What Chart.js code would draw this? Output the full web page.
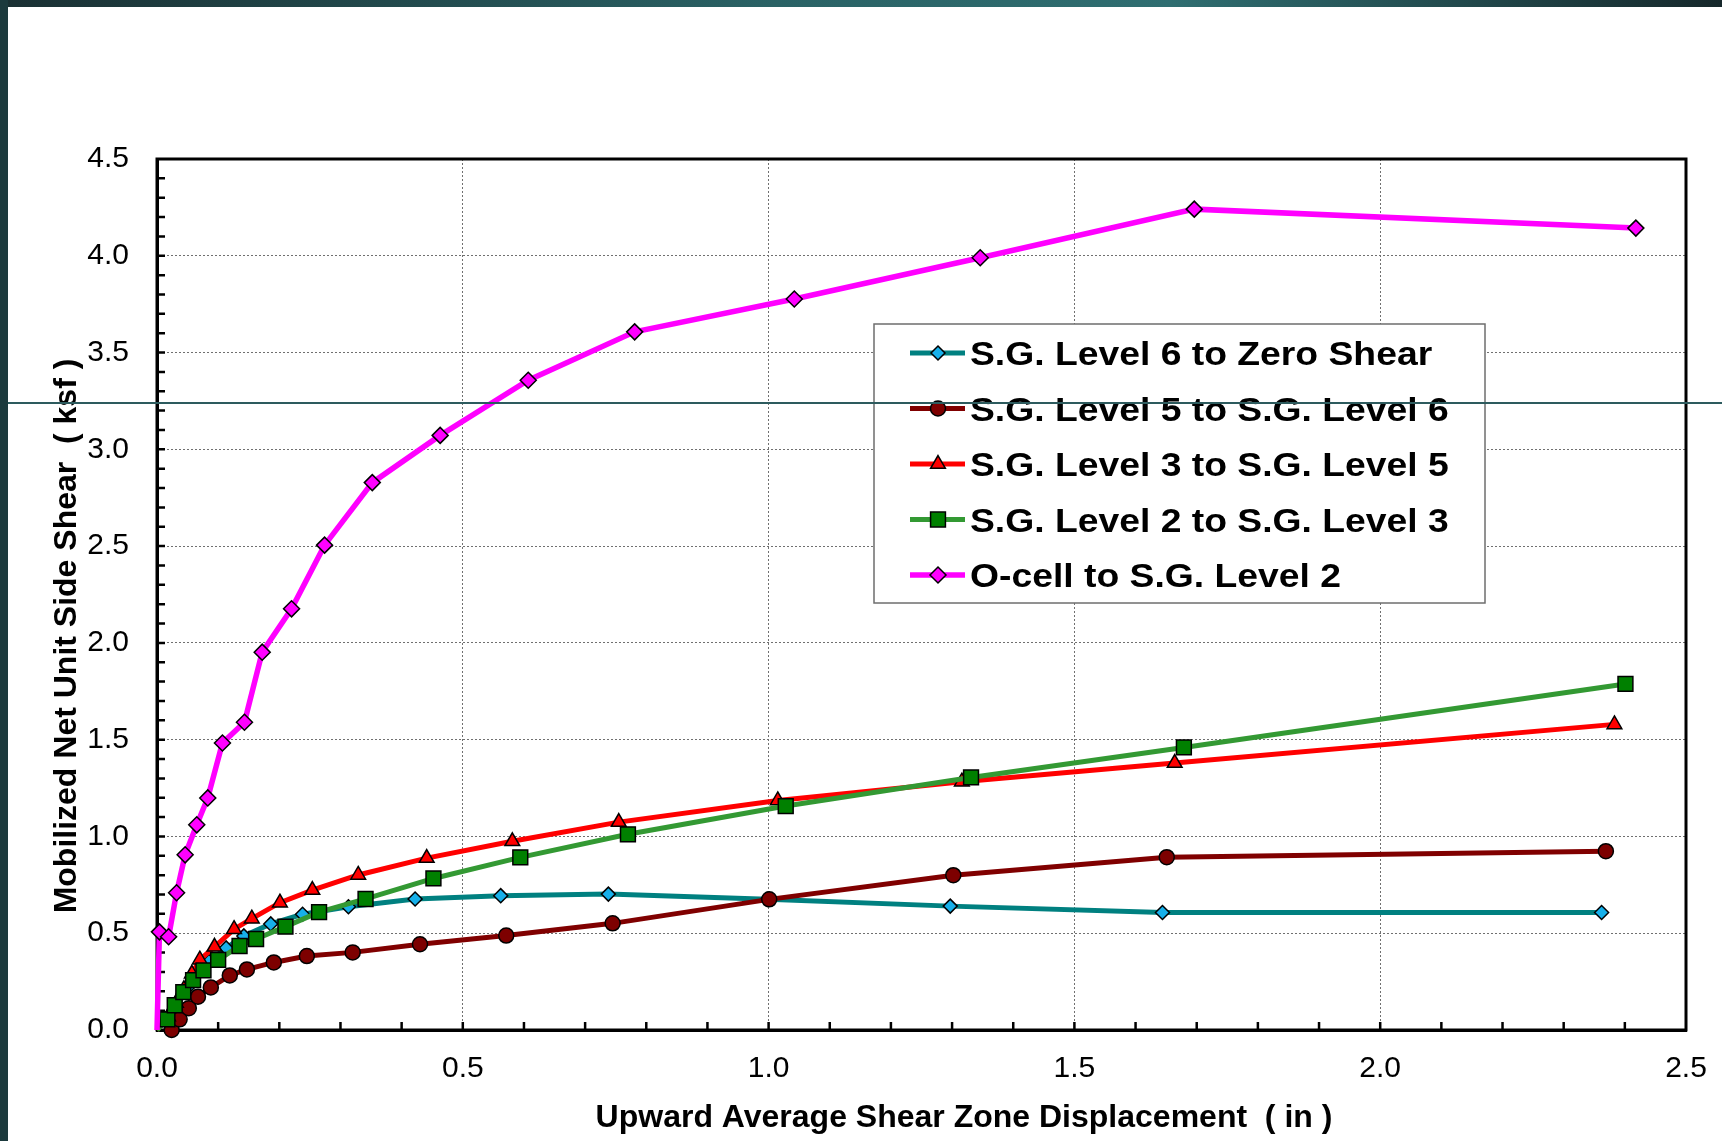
<!DOCTYPE html>
<html>
<head>
<meta charset="utf-8">
<title>Mobilized Net Unit Side Shear</title>
<script src="https://cdn.jsdelivr.net/npm/chart.js@4/dist/chart.umd.min.js"></script>
<style>
  html, body { margin: 0; padding: 0; background: #fff; }
  #wrap { position: relative; width: 1722px; height: 1141px; overflow: hidden; }
  #shear-chart { position: absolute; left: 0; top: 0; }
  .strip-top { position: absolute; left: 0; top: 0; width: 1722px; height: 7px;
    background: linear-gradient(to right, #1a3033 0%, #2a6265 45%, #2f6e71 68%, #16282b 100%); }
  .strip-left { position: absolute; left: 0; top: 0; width: 8px; height: 1141px; background: #1c3a3d; }
  .rule { position: absolute; left: 8px; top: 402px; width: 1714px; height: 1.5px; background: #2d5b5e; }
</style>
</head>
<body>
<div id="wrap">
  <canvas id="shear-chart" width="1722" height="1141"></canvas>
  <div class="strip-top"></div>
  <div class="strip-left"></div>
  <div class="rule"></div>
</div>
<script>
let seriesNames = [
    'S.G. Level 6 to Zero Shear',
    'S.G. Level 5 to S.G. Level 6',
    'S.G. Level 3 to S.G. Level 5',
    'S.G. Level 2 to S.G. Level 3',
    'O-cell to S.G. Level 2'
]

let xTitle = 'Upward Average Shear Zone Displacement  ( in )'
let yTitle = 'Mobilized Net Unit Side Shear  ( ksf )'

let xTicks = [0, 0.5, 1.0, 1.5, 2.0, 2.5]
let yTicks = [0, 0.5, 1.0, 1.5, 2.0, 2.5, 3.0, 3.5, 4.0, 4.5]

// displacement (in) / unit side shear (ksf)
let level6X = [0, 0.030, 0.050, 0.066, 0.085, 0.113, 0.142, 0.186, 0.238, 0.313, 0.422, 0.562, 0.738, 0.998, 1.297, 1.644, 2.362]
let level6Y = [0, 0.13, 0.22, 0.29, 0.354, 0.424, 0.486, 0.548, 0.598, 0.637, 0.677, 0.694, 0.702, 0.675, 0.640, 0.607, 0.607]

let level5X = [0.024, 0.037, 0.052, 0.067, 0.088, 0.119, 0.147, 0.191, 0.245, 0.320, 0.430, 0.571, 0.745, 1.001, 1.302, 1.651, 2.369]
let level5Y = [0.0, 0.055, 0.113, 0.172, 0.220, 0.282, 0.313, 0.349, 0.382, 0.401, 0.443, 0.488, 0.551, 0.675, 0.800, 0.893, 0.924]

let level3X = [0, 0.018, 0.031, 0.044, 0.057, 0.070, 0.094, 0.126, 0.155, 0.201, 0.254, 0.329, 0.441, 0.581, 0.755, 1.015, 1.316, 1.664, 2.383]
let level3Y = [0, 0.07, 0.14, 0.21, 0.29, 0.363, 0.430, 0.521, 0.575, 0.658, 0.723, 0.801, 0.888, 0.975, 1.074, 1.186, 1.283, 1.379, 1.579]

let level2X = [0, 0.017, 0.029, 0.043, 0.059, 0.076, 0.100, 0.135, 0.162, 0.210, 0.265, 0.341, 0.452, 0.594, 0.770, 1.028, 1.331, 1.679, 2.401]
let level2Y = [0, 0.055, 0.128, 0.196, 0.258, 0.308, 0.362, 0.434, 0.470, 0.534, 0.609, 0.677, 0.783, 0.892, 1.011, 1.157, 1.305, 1.460, 1.788]

let ocellX = [0, 0.004, 0.019, 0.032, 0.046, 0.065, 0.083, 0.107, 0.143, 0.172, 0.220, 0.274, 0.352, 0.463, 0.607, 0.781, 1.042, 1.346, 1.696, 2.418]
let ocellY = [0, 0.507, 0.482, 0.709, 0.905, 1.060, 1.199, 1.483, 1.590, 1.952, 2.176, 2.505, 2.828, 3.072, 3.357, 3.607, 3.777, 3.990, 4.241, 4.143]

let seriesX = [level6X, level5X, level3X, level2X, ocellX]
let seriesY = [level6Y, level5Y, level3Y, level2Y, ocellY]

let looks = [
    {line: '#008080', fill: '#17b0ea', shape: 'rectRot', r: 7, width: 5},
    {line: '#800000', fill: '#7d0000', shape: 'circle', r: 7.5, width: 5},
    {line: '#ff0000', fill: '#ff0000', shape: 'triangle', r: 8.5, width: 5},
    {line: '#339933', fill: '#008000', shape: 'rect', r: 10.5, width: 5},
    {line: '#ff00ff', fill: '#ff00ff', shape: 'rectRot', r: 8, width: 5.5}
]

let fontFamily = '"Liberation Sans", Arial, sans-serif'
Chart.defaults.font.family = fontFamily
Chart.defaults.color = '#000'

let datasets = seriesNames.map(function(name, i){
    let look = looks[i]
    return {
        label: name,
        data: seriesX[i].map((x, j) => ({x: x, y: seriesY[i][j]})),
        showLine: true,
        borderColor: look.line,
        borderWidth: look.width,
        pointStyle: look.shape,
        // the origin point has no marker in the original
        pointRadius: ctx => (ctx.raw && ctx.raw.x === 0 && ctx.raw.y === 0) ? 0 : look.r,
        pointBackgroundColor: look.fill,
        pointBorderColor: '#000',
        pointBorderWidth: 1.5,
        order: seriesNames.length - i,   // later series sit on top, like Excel
        clip: false
    }
})

// inward minor ticks every 0.1 and the closed frame
let frameTicks = {
    id: 'frameTicks',
    beforeDatasetsDraw(chart) {
        let {ctx, chartArea: a, scales} = chart
        ctx.save()
        ctx.strokeStyle = '#000'
        ctx.lineWidth = 2.5
        ctx.beginPath()
        for (let i = 1; i < 25; i++) {
            let px = scales.x.getPixelForValue(i / 10)
            ctx.moveTo(px, a.bottom)
            ctx.lineTo(px, a.bottom - 8)
        }
        for (let i = 1; i < 45; i++) {
            let py = scales.y.getPixelForValue(i / 10)
            ctx.moveTo(a.left, py)
            ctx.lineTo(a.left + 8, py)
        }
        ctx.stroke()
        ctx.lineWidth = 3
        ctx.strokeRect(a.left, a.top, a.right - a.left, a.bottom - a.top)
        ctx.restore()
    }
}

let axisTitles = {
    id: 'axisTitles',
    afterDraw(chart) {
        let {ctx, chartArea: a} = chart
        ctx.save()
        ctx.fillStyle = '#000'
        ctx.font = 'bold 32px ' + fontFamily
        ctx.textAlign = 'center'
        ctx.textBaseline = 'alphabetic'
        ctx.fillText(xTitle, a.left + 807, a.bottom + 97)
        ctx.translate(a.left - 81, a.top + 477)
        ctx.rotate(-Math.PI / 2)
        ctx.fillText(yTitle, 0, 0)
        ctx.restore()
    }
}

// boxed legend sitting inside the plot
let boxLegend = {
    id: 'boxLegend',
    afterDraw(chart) {
        let {ctx, chartArea: a} = chart
        let left = a.left + 717, top = a.top + 165, w = 611, h = 279
        ctx.save()
        ctx.fillStyle = '#fff'
        ctx.fillRect(left, top, w, h)
        ctx.strokeStyle = '#6e6e6e'
        ctx.lineWidth = 1.5
        ctx.strokeRect(left, top, w, h)
        chart.data.datasets.forEach(function(ds, i){
            let cy = top + 29 + i * 55.5
            ctx.strokeStyle = ds.borderColor
            ctx.lineWidth = ds.borderWidth
            ctx.beginPath()
            ctx.moveTo(left + 36, cy)
            ctx.lineTo(left + 91, cy)
            ctx.stroke()
            ctx.fillStyle = ds.pointBackgroundColor
            ctx.strokeStyle = ds.pointBorderColor
            ctx.lineWidth = ds.pointBorderWidth
            Chart.helpers.drawPoint(ctx, {pointStyle: ds.pointStyle, radius: looks[i].r, borderWidth: ds.pointBorderWidth, rotation: 0}, left + 64, cy)
            ctx.save()
            ctx.translate(left + 96, cy + 12)
            ctx.scale(1.13, 1)
            ctx.fillStyle = '#000'
            ctx.font = 'bold 33px ' + fontFamily
            ctx.textBaseline = 'alphabetic'
            ctx.fillText(ds.label, 0, 0)
            ctx.restore()
        })
        ctx.restore()
    }
}

let canvas = document.querySelector('#shear-chart')
let context = canvas.getContext('2d')

let chart = new Chart(context, {
    type: 'scatter',
    data: {datasets: datasets},
    options: {
        responsive: false,
        animation: false,
        events: [],
        layout: {
            padding: {left: 0, top: 159, right: 36, bottom: 0}
        },
        plugins: {
            legend: {display: false},
            tooltip: {enabled: false}
        },
        scales: {
            x: {
                type: 'linear',
                min: 0,
                max: 2.5,
                afterBuildTicks: s => { s.ticks = xTicks.map(v => ({value: v})) },
                afterFit: s => { s.height = 111; s.paddingLeft = 0; s.paddingRight = 0 },
                grid: {color: '#707070', lineWidth: 1, drawTicks: false},
                border: {display: true, color: '#000', width: 3, dash: [2, 2]},
                ticks: {
                    font: {size: 30},
                    padding: 21,
                    maxRotation: 0,
                    autoSkip: false,
                    callback: v => v.toFixed(1)
                }
            },
            y: {
                type: 'linear',
                min: 0,
                max: 4.5,
                afterBuildTicks: s => { s.ticks = yTicks.map(v => ({value: v})) },
                afterFit: s => { s.width = 157; s.paddingTop = 0; s.paddingBottom = 0 },
                grid: {color: '#707070', lineWidth: 1, drawTicks: false},
                border: {display: true, color: '#000', width: 3, dash: [2, 2]},
                ticks: {
                    font: {size: 30},
                    padding: 28,
                    autoSkip: false,
                    callback: v => v.toFixed(1)
                }
            }
        }
    },
    plugins: [frameTicks, axisTitles, boxLegend]
})
</script>
</body>
</html>
